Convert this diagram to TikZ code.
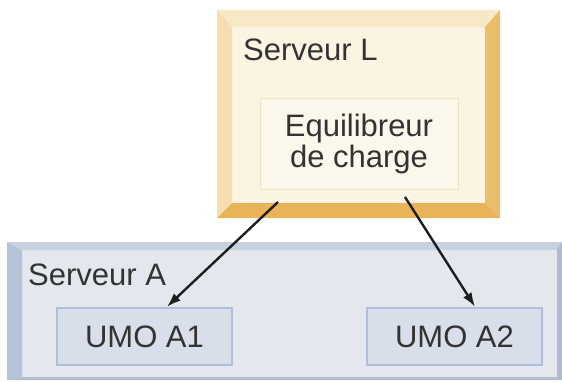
\documentclass[tikz,border=0pt]{standalone}
\usepackage{fontspec}
\setmainfont{Liberation Sans}
\usepackage{xcolor}
\usetikzlibrary{arrows.meta}
\definecolor{lfill}{HTML}{FBF4E3}
\definecolor{ltop}{HTML}{F7E8C6}
\definecolor{lleft}{HTML}{F3DDB1}
\definecolor{lright}{HTML}{EBBE6A}
\definecolor{lbottom}{HTML}{E8B457}
\definecolor{lbfill}{HTML}{FCF7EB}
\definecolor{lbborder}{HTML}{EFE3C6}
\definecolor{afill}{HTML}{E4E7ED}
\definecolor{atop}{HTML}{C6D2E0}
\definecolor{aleft}{HTML}{B5C3D7}
\definecolor{aright}{HTML}{AEBBCF}
\definecolor{abottom}{HTML}{B3BFD0}
\definecolor{umofill}{HTML}{D9DFEA}
\definecolor{umoborder}{HTML}{AFBEDA}
\definecolor{txtgray}{HTML}{333333}
\definecolor{arrowgray}{HTML}{1E1E1E}
\tikzset{>={Latex[length=14pt,width=10pt]}}

\begin{document}
\begin{tikzpicture}[x=1pt,y=-1pt]
\tikzset{srvtext/.style={anchor=base west, inner sep=0pt, text=txtgray, font=\fontsize{31}{31}\selectfont}}
\tikzset{umobox/.style={draw=umoborder, line width=2.6pt, fill=umofill, minimum width=175pt, minimum height=57pt, inner sep=0pt, text=txtgray, font=\fontsize{31}{31}\selectfont}}
\tikzset{flow/.style={->, line width=2.4pt, draw=arrowgray}}
    \useasboundingbox (0,0) rectangle (562,381);

    \coordinate (Lnw) at (217,10);
    \coordinate (Lse) at (500,218);
    \coordinate (Linw) at (232,27);
    \coordinate (Lise) at (485,203);

    \fill[lfill] (Lnw) rectangle (Lse);
    \fill[ltop] (Lnw) -- (Lse |- Lnw) -- (Lise |- Linw) -- (Linw) -- cycle;
    \fill[lleft] (Lnw) -- (Linw) -- (Linw |- Lise) -- (Lnw |- Lse) -- cycle;
    \fill[lright] (Lse |- Lnw) -- (Lse) -- (Lise) -- (Lise |- Linw) -- cycle;
    \fill[lbottom] (Lnw |- Lse) -- (Lse) -- (Lise) -- (Linw |- Lise) -- cycle;

    \node[srvtext] (labL) at (243,60) {Serveur L};
    \node[draw=lbborder, fill=lbfill, minimum width=198pt, minimum height=91pt, inner sep=0pt, align=center, text=txtgray, font=\fontsize{31}{31}\selectfont] (lb) at (359,143.5) {Equilibreur\\de charge};
% % % % % % % % % % % % % % % % % % %
    \coordinate (Anw) at (7,242);
    \coordinate (Ase) at (562,380);
    \coordinate (Ainw) at (22,250);
    \coordinate (Aise) at (557,377);

    \fill[afill] (Anw) rectangle (Ase);
    \fill[atop] (Anw) -- (Ase |- Anw) -- (Aise |- Ainw) -- (Ainw) -- cycle;
    \fill[aleft] (Anw) -- (Ainw) -- (Ainw |- Aise) -- (Anw |- Ase) -- cycle;
    \fill[aright] (Ase |- Anw) -- (Ase) -- (Aise) -- (Aise |- Ainw) -- cycle;
    \fill[abottom] (Anw |- Ase) -- (Ase) -- (Aise) -- (Ainw |- Aise) -- cycle;

    \node[srvtext] (labA) at (28,285) {Serveur A};
    \node[umobox] (umoA1) at (144.5,336.5) {UMO A1};
    \node[umobox] (umoA2) at (454.5,336.5) {UMO A2};
% % % % % % % % % % % % % % % % % % %
    \coordinate (outL) at (278,202);
    \coordinate (outR) at (405,197);

    \draw[flow] (outL) -- ([xshift=22.5pt]umoA1.north);
    \draw[flow] (outR) -- ([xshift=20.5pt]umoA2.north);
\end{tikzpicture}
\end{document}
